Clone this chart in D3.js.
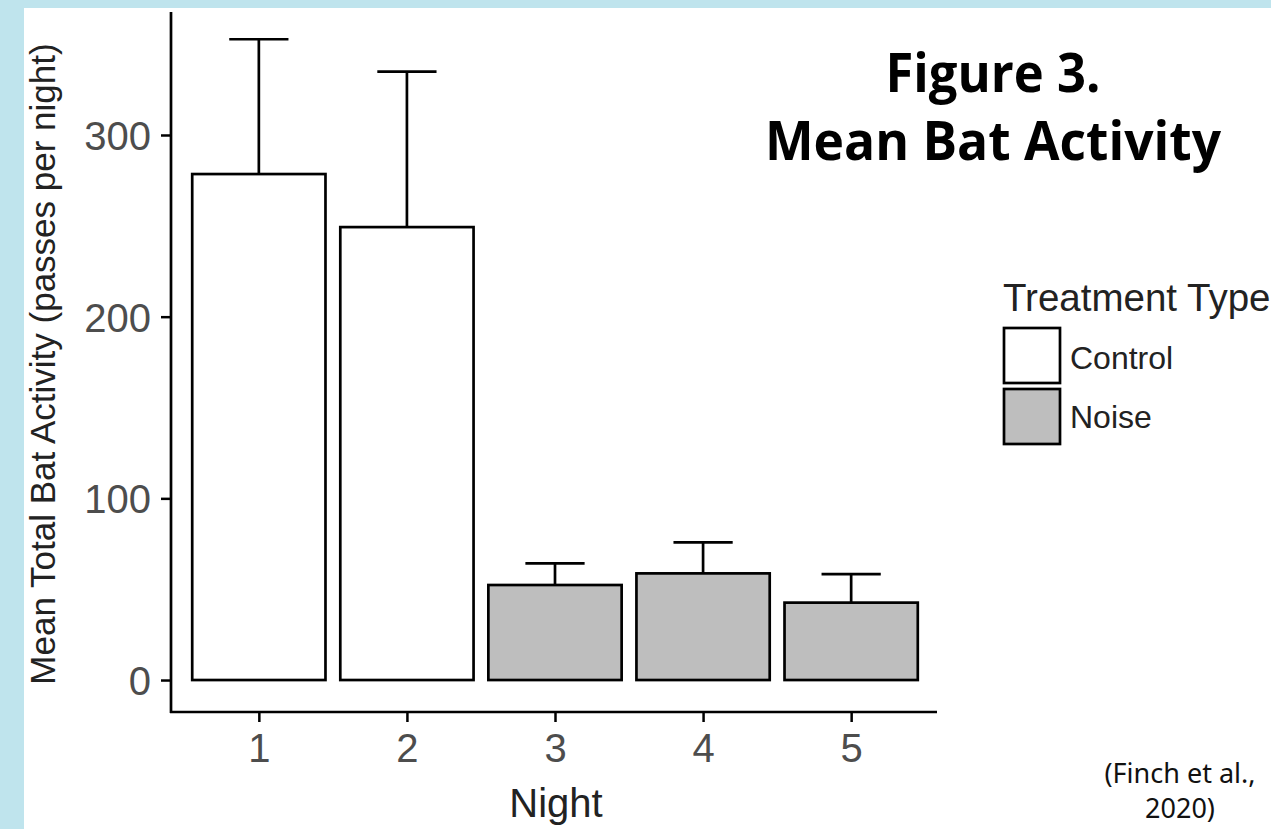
<!DOCTYPE html>
<html>
<head>
<meta charset="utf-8">
<script src="https://cdn.jsdelivr.net/npm/d3@7"></script>
<style>
  html, body { margin: 0; padding: 0; background: #bfe4ed; }
  svg { display: block; }
</style>
</head>
<body>
<script>
// ---- data ----
const nights = ["1", "2", "3", "4", "5"];
const treatment = ["Control", "Control", "Noise", "Noise", "Noise"];
const meanActivity = [278.5, 249.3, 52.3, 58.7, 42.6];
const upperError = [352.7, 334.9, 64.2, 75.8, 58.3];
const yTicks = [0, 100, 200, 300];
const legendLabels = ["Control", "Noise"];
const legendColors = ["#ffffff", "#bebebe"];

(function () {
const W = 1271, H = 829;
const svg = d3.select("body").append("svg").attr("width", W).attr("height", H);

// page background
svg.append("rect").attr("x", 0).attr("y", 0).attr("width", W).attr("height", H).attr("fill", "#bfe4ed");
svg.append("rect").attr("x", 24).attr("y", 8).attr("width", W - 24).attr("height", H - 8).attr("fill", "#ffffff");

const pL = 171, pR = 937, pT = 12, pB = 712;

// discrete x positions with ggplot-style 0.6 expansion
const xl = d3.scaleLinear().domain([0.4, 5.6]).range([170, 940]);
const unit = xl(2) - xl(1);
const xc = d => xl(nights.indexOf(d) + 1);

const y = d3.scaleLinear().domain([-17.6, 367.7]).range([pB, pT]);
const fill = d3.scaleOrdinal().domain(legendLabels).range(legendColors);

const data = nights.map((n, i) => ({ n, t: treatment[i], v: meanActivity[i], u: upperError[i] }));

// error bars (upper part)
const eb = svg.append("g").attr("stroke", "#000").attr("stroke-width", 2.7).attr("fill", "none");
eb.selectAll("line.v").data(data).join("line").attr("class", "v")
  .attr("x1", d => xc(d.n)).attr("x2", d => xc(d.n))
  .attr("y1", d => y(d.v)).attr("y2", d => y(d.u));
eb.selectAll("line.c").data(data).join("line").attr("class", "c")
  .attr("x1", d => xc(d.n) - unit * 0.2).attr("x2", d => xc(d.n) + unit * 0.2)
  .attr("y1", d => y(d.u)).attr("y2", d => y(d.u));

// bars
svg.append("g").selectAll("rect").data(data).join("rect")
  .attr("x", d => xc(d.n) - unit * 0.45)
  .attr("width", unit * 0.9)
  .attr("y", d => y(d.v))
  .attr("height", d => y(0) - y(d.v))
  .attr("fill", d => fill(d.t))
  .attr("stroke", "#000").attr("stroke-width", 2.7);

// axes
const yAxis = svg.append("g").attr("transform", `translate(${pL},0)`)
  .call(d3.axisLeft(y).tickValues(yTicks).tickSize(10).tickPadding(10));
const xAxis = svg.append("g").attr("transform", `translate(0,${pB})`)
  .call(d3.axisBottom(xl).tickValues([1, 2, 3, 4, 5]).tickFormat((d, i) => nights[i]).tickSize(10).tickPadding(12));
[yAxis, xAxis].forEach(a => {
  a.select(".domain").remove();
  a.selectAll(".tick line").attr("stroke", "#000").attr("stroke-width", 2.5);
  a.selectAll(".tick text").attr("fill", "#4d4d4d").attr("font-family", "'Liberation Sans', Arial, sans-serif").attr("font-size", 40);
});
yAxis.selectAll(".tick text").attr("dy", "0.36em");
// axis lines
svg.append("line").attr("x1", pL).attr("x2", pL).attr("y1", pT).attr("y2", pB + 1).attr("stroke", "#000").attr("stroke-width", 2.7);
svg.append("line").attr("x1", pL - 1).attr("x2", pR).attr("y1", pB).attr("y2", pB).attr("stroke", "#000").attr("stroke-width", 2.7);

// axis titles
svg.append("text").attr("x", 556).attr("y", 817).attr("text-anchor", "middle")
  .attr("font-family", "'Liberation Sans', Arial, sans-serif").attr("font-size", 40).attr("fill", "#222")
  .text("Night");
svg.append("text").attr("transform", `translate(55,${(pT + pB) / 2 + 2}) rotate(-90)`).attr("text-anchor", "middle")
  .attr("font-family", "'Liberation Sans', Arial, sans-serif").attr("font-size", 35).attr("fill", "#222")
  .text("Mean Total Bat Activity (passes per night)");

// legend
const lg = svg.append("g");
lg.append("text").attr("x", 1003).attr("y", 311)
  .attr("font-family", "'Liberation Sans', Arial, sans-serif").attr("font-size", 38.5).attr("fill", "#222")
  .text("Treatment Type");
legendLabels.forEach((l, i) => {
  lg.append("rect").attr("x", 1004).attr("y", 328 + i * 61).attr("width", 56).attr("height", 55)
    .attr("fill", fill(l)).attr("stroke", "#000").attr("stroke-width", 2.7);
  lg.append("text").attr("x", 1070).attr("y", 369 + i * 59)
    .attr("font-family", "'Liberation Sans', Arial, sans-serif").attr("font-size", 32).attr("fill", "#222")
    .text(l);
});

// title
const tf = "'Open Sans', 'Noto Sans', sans-serif";
svg.append("text").attr("x", 993).attr("y", 92).attr("text-anchor", "middle")
  .attr("font-family", tf).attr("font-weight", 700).attr("font-size", 54).attr("fill", "#000")
  .attr("textLength", 215).attr("lengthAdjust", "spacingAndGlyphs")
  .text("Figure 3.");
svg.append("text").attr("x", 993).attr("y", 160).attr("text-anchor", "middle")
  .attr("font-family", tf).attr("font-weight", 700).attr("font-size", 54).attr("fill", "#000")
  .attr("textLength", 456).attr("lengthAdjust", "spacingAndGlyphs")
  .text("Mean Bat Activity");

// citation
const cf = "'Noto Sans', 'Open Sans', sans-serif";
svg.append("text").attr("x", 1180).attr("y", 783).attr("text-anchor", "middle")
  .attr("font-family", cf).attr("font-size", 27).attr("fill", "#111")
  .text("(Finch et al.,");
svg.append("text").attr("x", 1180).attr("y", 818).attr("text-anchor", "middle")
  .attr("font-family", cf).attr("font-size", 27).attr("fill", "#111")
  .text("2020)");
})();
</script>
</body>
</html>
